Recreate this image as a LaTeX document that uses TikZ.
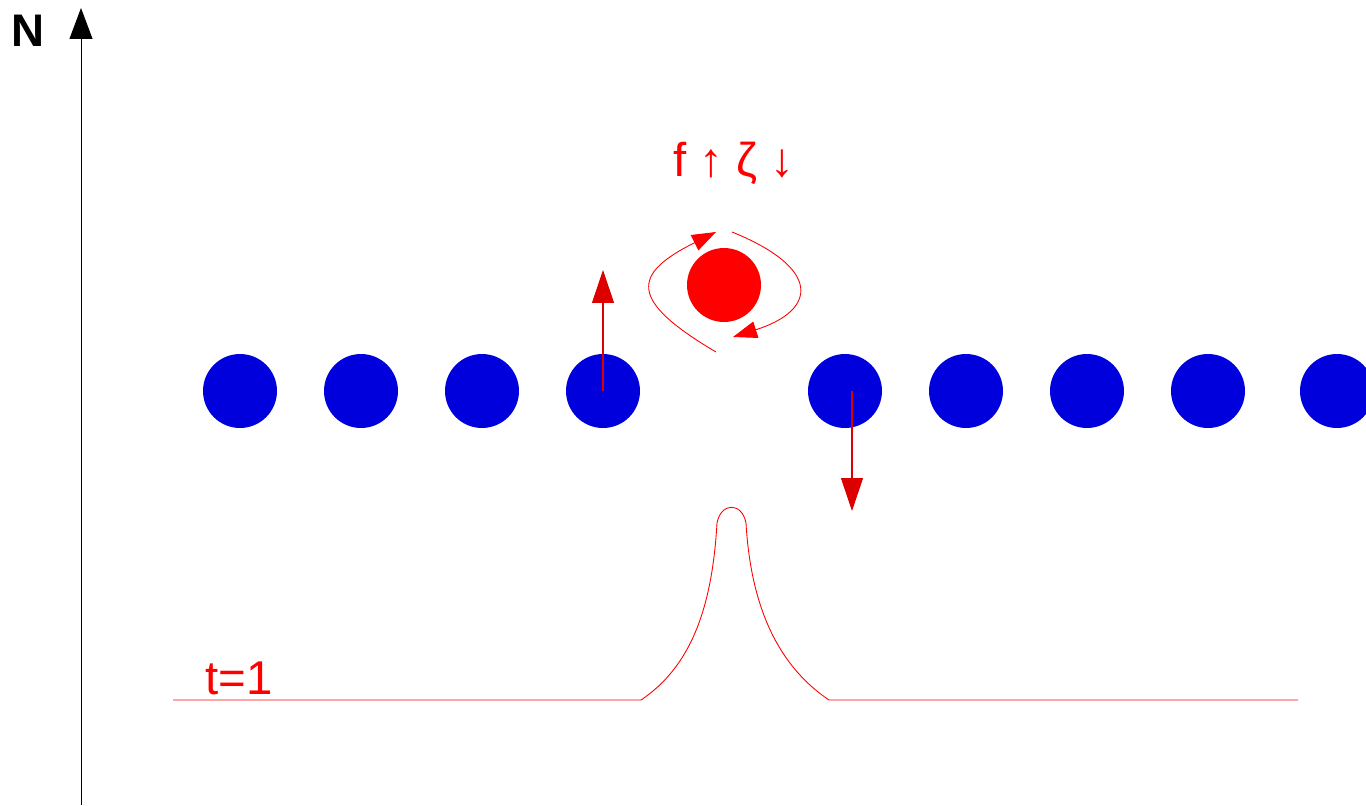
\documentclass[tikz,border=0pt]{standalone}
\usepackage{fontspec}
\setmainfont{Liberation Sans}
\usepackage{tikz}
\usetikzlibrary{
    arrows.meta,
    positioning
}
\definecolor{dotblue}{RGB}{0,0,220}
\definecolor{pushred}{RGB}{221,0,0}

\begin{document}
\begin{tikzpicture}[
    x=0.02cm, y=-0.02cm,
    dot/.style={
        circle,
        fill=dotblue,
        inner sep=0pt,
        minimum size=1.48cm
    },
    vortex/.style={
        circle,
        fill=red,
        inner sep=0pt,
        minimum size=1.48cm
    },
    push/.style={-{Triangle[width=0.44cm, length=0.66cm, fill=pushred]}, draw=pushred, line width=0.6pt},
    swirl/.style={-{Triangle[width=0.34cm, length=0.48cm, fill=red]}, draw=red, line width=0.5pt},
    label/.style={text=red, font=\fontsize{27}{32}\selectfont}
]
\useasboundingbox (0,0) rectangle (1366,805);

% Eje vertical
\coordinate (axisfoot) at (81,805);
\coordinate (axistop) at (81,8);
\draw[-{Triangle[width=0.46cm, length=0.62cm]}, line width=0.5pt] (axisfoot) -- (axistop);
\node[font=\bfseries\fontsize{26}{30}\selectfont] (axislabel) at (28,31) {N};

% Fila de particulas
\node[dot] (d1) at (240,391) {};
\node[dot] (d2) at (361,391) {};
\node[dot] (d3) at (482,391) {};
\node[dot] (d4) at (603,391) {};
\node[dot] (d5) at (845,391) {};
\node[dot] (d6) at (966,391) {};
\node[dot] (d7) at (1087,391) {};
\node[dot] (d8) at (1208,391) {};
\node[dot] (d9) at (1337,391) {};

% Vortice
\node[vortex] (vort) at (724,285) {};
\node[label] (rates) at (734,163) {f ↑ ζ ↓};

% Desplazamientos
\coordinate (uptip) at (603,270);
\coordinate (downfoot) at (852,391);
\coordinate (downtip) at (852,511);
\draw[push] (d4.center) -- (uptip);
\draw[push] (downfoot) -- (downtip);

% Circulacion
\coordinate (swirlA) at (716,352);
\coordinate (swirlB) at (716,232);
\coordinate (swirlC) at (732,232);
\coordinate (swirlD) at (733,337);
\draw[swirl] (swirlA) .. controls (628,300) and (632,274) .. (swirlB);
\draw[swirl] (swirlC) .. controls (821,268) and (818,310) .. (swirlD);

% Perfil
\node[label] (time) at (239,678) {t=1};
\draw[red, line width=0.5pt] (173,700) -- (641,700)
    .. controls (690,667) and (712,610) .. (717,523)
    .. controls (721,502) and (742,502) .. (746,523)
    .. controls (751,610) and (780,667) .. (829,700)
    -- (1298,700);

\end{tikzpicture}
\end{document}
